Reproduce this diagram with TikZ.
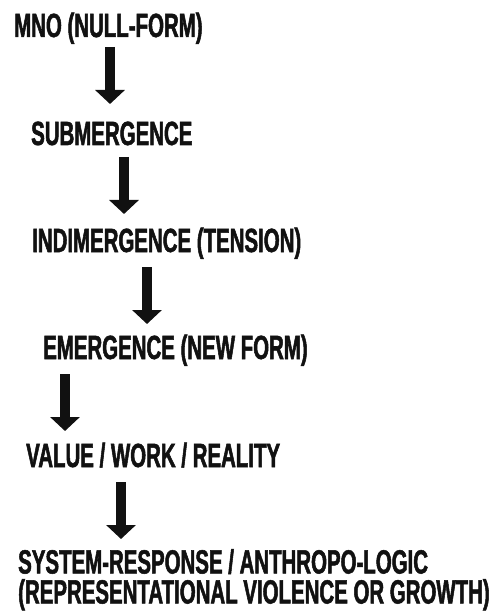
\documentclass[tikz,border=0pt]{standalone}
\usepackage{fontspec}
\newfontfamily\flowfont{Liberation Sans}[FakeStretch=0.61,FakeBold=1.5]
\usetikzlibrary{arrows.meta}
\definecolor{inkBlack}{RGB}{17,17,17}

\begin{document}
\begin{tikzpicture}[x=1pt,y=-1pt,
    stage/.style={anchor=base west, inner sep=0pt, text=inkBlack,
      font=\flowfont\bfseries\fontsize{33.5}{30}\selectfont},
    flowarrow/.style={draw=inkBlack, line width=10pt,
      -{Triangle[width=29pt,length=14pt]}}]
  \useasboundingbox[fill=white] (0,0) rectangle (489,612);

  \node[stage] (mno) at (14,37) {MNO (NULL-FORM)};
  \node[stage] (sub) at (31,145) {SUBMERGENCE};
  \node[stage] (indi) at (32,252) {INDIMERGENCE (TENSION)};
  \node[stage] (emerg) at (43,359) {EMERGENCE (NEW FORM)};
  \node[stage] (value) at (26,467) {VALUE / WORK / REALITY};
  \node[stage, align=left, anchor=north west] (system) at (18,549)
    {SYSTEM-RESPONSE / ANTHROPO-LOGIC\\(REPRESENTATIONAL VIOLENCE OR GROWTH)};

  \draw[flowarrow] (mno.base -| 110,0) ++(0,10) -- ++(0,57);
  \draw[flowarrow] (sub.base -| 124,0) ++(0,12) -- ++(0,57);
  \draw[flowarrow] (indi.base -| 147,0) ++(0,15) -- ++(0,57);
  \draw[flowarrow] (emerg.base -| 65,0) ++(0,15) -- ++(0,57);
  \draw[flowarrow] (value.base -| 121,0) ++(0,15) -- ++(0,57);
\end{tikzpicture}
\end{document}
